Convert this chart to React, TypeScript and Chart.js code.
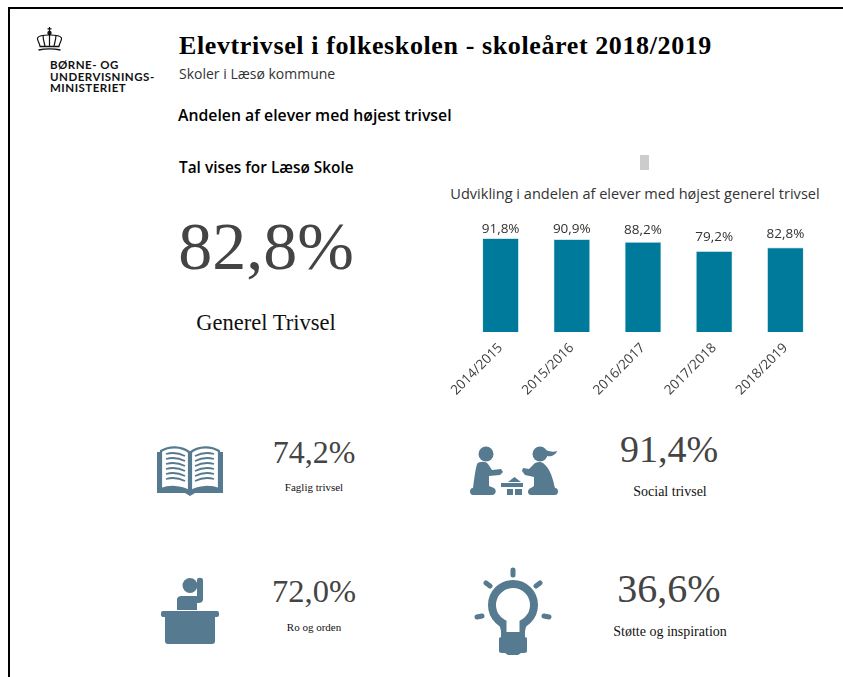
import React, { useEffect, useRef } from "react";
import { Chart, registerables } from "chart.js";

Chart.register(...registerables);

const years = ["2014/2015", "2015/2016", "2016/2017", "2017/2018", "2018/2019"];
const shares = [91.8, 90.9, 88.2, 79.2, 82.8];
const labelGaps = [2, 3, 5, 7, 7];
const barColor = "#007a9b";
const iconColor = "#567a8f";
const serif = "'Liberation Serif', serif";
const sans = "'Open Sans', sans-serif";

const pct = (v: number) => v.toFixed(1).replace(".", ",") + "%";

const barLabels = {
  id: "barLabels",
  afterDatasetsDraw(chart: any) {
    const { ctx } = chart;
    const meta = chart.getDatasetMeta(0);
    ctx.save();
    ctx.font = "13.5px 'Open Sans', sans-serif";
    ctx.fillStyle = "#333333";
    ctx.textAlign = "center";
    ctx.textBaseline = "bottom";
    meta.data.forEach((bar: any, i: number) => {
      ctx.fillText(pct(shares[i]), bar.x, bar.y - labelGaps[i]);
    });
    ctx.restore();
  },
};

function Text({ x, y, size, children, font = sans, weight = 400, color = "#111", center = false, spacing = 0 }: any) {
  return (
    <div
      style={{
        position: "absolute",
        left: x,
        top: y,
        transform: center ? "translate(-50%, -50%)" : "translateY(-50%)",
        fontFamily: font,
        fontSize: size,
        fontWeight: weight,
        color,
        letterSpacing: spacing,
        whiteSpace: "nowrap",
        lineHeight: 1,
      }}
    >
      {children}
    </div>
  );
}

function Crown() {
  return (
    <svg style={{ position: "absolute", left: 36, top: 26 }} width="28" height="26" viewBox="0 0 28 26" fill="none" stroke="#111" strokeWidth="1.2">
      <path d="M13.5 1v5M11.5 2.8h4" />
      <circle cx="13.5" cy="7" r="1.6" fill="#111" />
      <path d="M4 20c-1-4-3-6-2.5-8 1-2.5 6-3 12-3s11 .5 12 3c.5 2-1.5 4-2.500 8" />
      <path d="M9 20c-1-4-2-7-2-11M18 20c1-4 2-7 2-11M13.500 9v11" />
      <path d="M3.500 20.500h20M2.500 24c6-1.500 16-1.500 22 0" strokeWidth="1.500" />
    </svg>
  );
}

function BookIcon() {
  return (
    <svg style={{ position: "absolute", left: 157, top: 446 }} width="66" height="50" viewBox="0 0 66 50">
      <path d="M0 6h4V42h25l4 3 4-3h25V6h4v41H38l-5 3-5-3H0z" fill={iconColor} />
      <path d="M4 5C12 0 24 0 32 6v39C24 40 12 40 4 43z" fill="#fff" stroke={iconColor} strokeWidth="2.200" />
      <path d="M62 5C54 0 42 0 34 6v39c8-5 20-5 28-2z" fill="#fff" stroke={iconColor} strokeWidth="2.200" />
      <g fill="none" stroke={iconColor} strokeWidth="1.800">
        {[8, 13, 18, 23, 28, 33].map((y) => (
          <g key={y}>
            <path d={`M9 ${y}c7-2 13-1 19 2`} />
            <path d={`M57 ${y}c-7-2-13-1-19 2`} />
          </g>
        ))}
      </g>
    </svg>
  );
}

function KidsIcon() {
  return (
    <svg style={{ position: "absolute", left: 469, top: 445 }} width="90" height="52" viewBox="0 0 90 52" fill={iconColor}>
      <circle cx="17" cy="9" r="7.500" />
      <path d="M8 19c2-3 9-3 11 0l4 6 9-1 2 3-3 3-11 1v10l5 2c3 2 2 7-2 7H4c-4 0-4-7 0-7 1-8 2-17 4-24z" />
      <circle cx="71" cy="9" r="7.500" />
      <path d="M77 5c4 2 8 2 11 1-1 4-6 6-10 5z" />
      <path d="M74 18c-3-2-8-1-10 2l-4 4-6-1-1 3 3 4 9 2v9l-3 2c-4 1-4 7 0 7h24c4 0 4-7 0-7-2-8-4-19-12-25z" />
      <path d="M39 37l6.500-5 6.500 5z" />
      <rect x="32" y="38" width="22" height="4" />
      <rect x="38" y="44" width="6" height="6" />
      <rect x="46" y="44" width="7" height="6" />
    </svg>
  );
}

function DeskIcon() {
  return (
    <svg style={{ position: "absolute", left: 160, top: 577 }} width="60" height="67" viewBox="0 0 60 67" fill={iconColor}>
      <circle cx="30" cy="8.500" r="7.500" />
      <path d="M17 33v-10c0-3 2-4 5-4h15V3c0-3 6-3 6 0v19c0 3-2 4-5 4h-1v7z" />
      <rect x="1" y="34" width="58" height="6" rx="2" />
      <path d="M5 39h50v25c0 2-1 3-3 3H8c-2 0-3-1-3-3z" />
    </svg>
  );
}

function BulbIcon() {
  return (
    <svg style={{ position: "absolute", left: 473, top: 565 }} width="82" height="92" viewBox="0 0 82 92" fill={iconColor}>
      <circle cx="40" cy="40" r="21" fill="none" stroke={iconColor} strokeWidth="8" />
      <path d="M26 58h28l-2 8v6l2 1v13c0 1-1 2-3 2h-3l-3 2H35l-3-2h-3c-2 0-3-1-3-2V73l2-1v-6z" />
      <rect x="33.500" y="52" width="13" height="15" fill="#fff" />
      <g stroke={iconColor} strokeWidth="5" strokeLinecap="round">
        <path d="M40 5v5M13 18l4 3M67 18l-4 3M4 52l5-1M76 52l-5-1" />
      </g>
    </svg>
  );
}

export default function App() {
  const ref = useRef<HTMLCanvasElement>(null);

  useEffect(() => {
    document.body.style.margin = "0";
    const chart = new Chart(ref.current!, {
      type: "bar",
      data: {
        labels: years,
        datasets: [
          {
            data: shares,
            backgroundColor: barColor,
            borderColor: "#a9d3de",
            borderWidth: 0.6,
            barPercentage: 1,
            categoryPercentage: 0.51,
          },
        ],
      },
      options: {
        animation: false,
        responsive: false,
        maintainAspectRatio: false,
        layout: { padding: { left: 25, right: 19, top: 30, bottom: 0 } },
        plugins: { legend: { display: false }, title: { display: false }, tooltip: { enabled: false } },
        scales: {
          x: {
            grid: { display: false },
            border: { display: false },
            afterFit: (s: any) => {
              s.height = 78;
            },
            ticks: {
              maxRotation: 45,
              minRotation: 45,
              autoSkip: false,
              color: "#404040",
              padding: 0,
              font: { size: 13.5, family: "'Open Sans', sans-serif" },
            },
          },
          y: { display: false, min: 0, max: 100 },
        },
      },
      plugins: [barLabels],
    });
    return () => chart.destroy();
  }, []);

  return (
    <div style={{ position: "relative", width: 843, height: 677, background: "#fff", overflow: "hidden" }}>
      <div style={{ position: "absolute", left: 8, top: 7, width: 835, height: 2, background: "#000" }} />
      <div style={{ position: "absolute", left: 8, top: 7, width: 2, height: 670, background: "#000" }} />
      <Crown />
      <div style={{ position: "absolute", left: 50, top: 59, fontFamily: "Lato, sans-serif", fontWeight: 700, fontSize: 11.5, lineHeight: "11.500px", color: "#111", letterSpacing: 0.5 }}>
        BØRNE- OG
        <br />
        UNDERVISNINGS-
        <br />
        MINISTERIET
      </div>
      <Text x={179} y={46} size={26} font={serif} weight={700} color="#000" spacing={0.61}>Elevtrivsel i folkeskolen - skoleåret 2018/2019</Text>
      <Text x={179} y={74} size={14} color="#333">Skoler i Læsø kommune</Text>
      <Text x={178} y={116} size={15.8} weight={600} color="#000">Andelen af elever med højest trivsel</Text>
      <Text x={179} y={168} size={15.4} weight={600} color="#000">Tal vises for Læsø Skole</Text>
      <div style={{ position: "absolute", left: 640, top: 155, width: 9, height: 15, background: "#cccccc" }} />
      <Text x={635} y={193} size={14.55} center color="#333">Udvikling i andelen af elever med højest generel trivsel</Text>
      <canvas ref={ref} width={400} height={210} style={{ position: "absolute", left: 440, top: 200, width: 400, height: 210 }} />

      <Text x={266} y={246} size={68} font={serif} center color="#444">82,8%</Text>
      <Text x={266} y={323} size={22.5} font={serif} center color="#111">Generel Trivsel</Text>

      <BookIcon />
      <Text x={314} y={452} size={32} font={serif} center color="#444">74,2%</Text>
      <Text x={314} y={487} size={11} font={serif} center color="#111">Faglig trivsel</Text>

      <KidsIcon />
      <Text x={669} y={449} size={38} font={serif} center color="#444">91,4%</Text>
      <Text x={670} y={492} size={14} font={serif} center color="#111">Social trivsel</Text>

      <DeskIcon />
      <Text x={314} y={591} size={32.5} font={serif} center color="#444">72,0%</Text>
      <Text x={314} y={627} size={11} font={serif} center color="#111">Ro og orden</Text>

      <BulbIcon />
      <Text x={669} y={589} size={40} font={serif} center color="#444">36,6%</Text>
      <Text x={670} y={632} size={14} font={serif} center color="#111">Støtte og inspiration</Text>
    </div>
  );
}
